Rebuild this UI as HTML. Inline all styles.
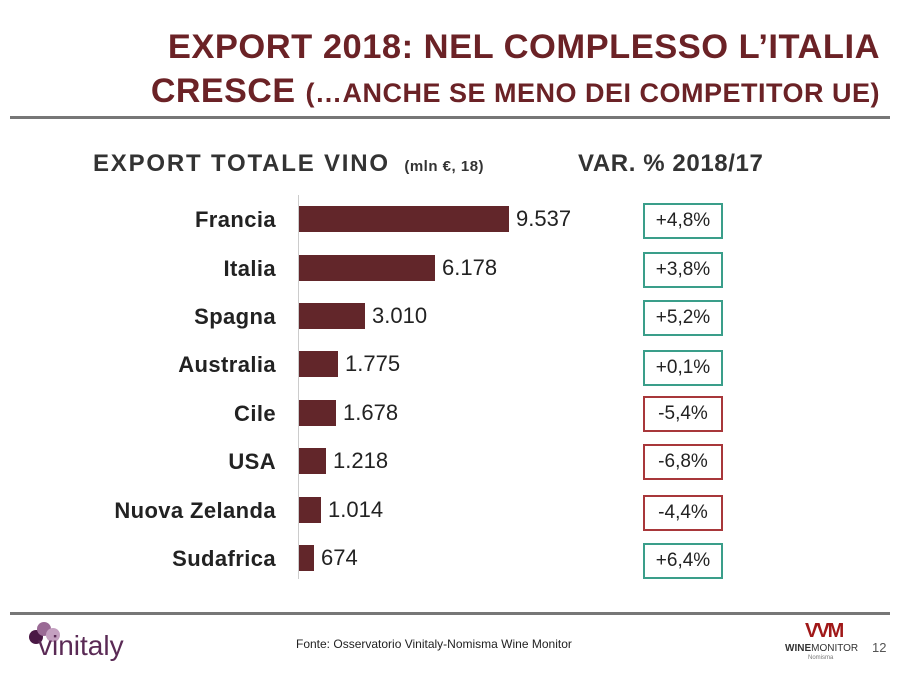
<!DOCTYPE html>
<html><head><meta charset="utf-8"><style>
body{margin:0;width:900px;height:675px;background:#fff;position:relative;overflow:hidden;font-family:"Liberation Sans",sans-serif}
.a{position:absolute;white-space:nowrap}
.t{color:#6b2226;font-weight:bold;font-size:34.5px;right:20px;letter-spacing:0.5px}
.lab{right:624px;font-weight:bold;font-size:22px;letter-spacing:0.4px;color:#222;text-align:right}
.bar{left:299px;height:26px;background:#62262a}
.val{font-size:22px;color:#222}
.box{left:643px;width:76px;height:32px;border:2px solid #3a9e8a;font-size:19px;color:#222;text-align:center;line-height:32px;box-sizing:content-box}
.r{border-color:#a8373a}
</style></head><body>
<div class="a t" style="top:28px">EXPORT 2018: NEL COMPLESSO L’ITALIA</div>
<div class="a t" style="top:72px;font-size:34px">CRESCE <span style="font-size:27px">(…ANCHE SE MENO DEI COMPETITOR UE)</span></div>
<div class="a" style="left:10px;top:116px;width:880px;height:3px;background:#777"></div>
<div class="a" style="left:93px;top:150px;font-size:24px;letter-spacing:1.8px;font-weight:bold;color:#333">EXPORT TOTALE VINO <span style="font-size:15px;margin-left:6px;letter-spacing:0.5px">(mln €, 18)</span></div>
<div class="a" style="left:578px;top:150px;font-size:24px;letter-spacing:0.6px;font-weight:bold;color:#333">VAR. % 2018/17</div>
<div class="a" style="left:298px;top:195px;width:1px;height:384px;background:#ccc"></div>
<div class="a lab" style="top:207px">Francia</div><div class="a bar" style="top:206px;width:210px"></div><div class="a val" style="left:516px;top:206px">9.537</div><div class="a box" style="top:203px">+4,8%</div>
<div class="a lab" style="top:256px">Italia</div><div class="a bar" style="top:255px;width:136px"></div><div class="a val" style="left:442px;top:255px">6.178</div><div class="a box" style="top:252px">+3,8%</div>
<div class="a lab" style="top:304px">Spagna</div><div class="a bar" style="top:303px;width:66px"></div><div class="a val" style="left:372px;top:303px">3.010</div><div class="a box" style="top:300px">+5,2%</div>
<div class="a lab" style="top:352px">Australia</div><div class="a bar" style="top:351px;width:39px"></div><div class="a val" style="left:345px;top:351px">1.775</div><div class="a box" style="top:350px">+0,1%</div>
<div class="a lab" style="top:401px">Cile</div><div class="a bar" style="top:400px;width:37px"></div><div class="a val" style="left:343px;top:400px">1.678</div><div class="a box r" style="top:396px">-5,4%</div>
<div class="a lab" style="top:449px">USA</div><div class="a bar" style="top:448px;width:27px"></div><div class="a val" style="left:333px;top:448px">1.218</div><div class="a box r" style="top:444px">-6,8%</div>
<div class="a lab" style="top:498px">Nuova Zelanda</div><div class="a bar" style="top:497px;width:22px"></div><div class="a val" style="left:328px;top:497px">1.014</div><div class="a box r" style="top:495px">-4,4%</div>
<div class="a lab" style="top:546px">Sudafrica</div><div class="a bar" style="top:545px;width:15px"></div><div class="a val" style="left:321px;top:545px">674</div><div class="a box" style="top:543px">+6,4%</div>
<div class="a" style="left:10px;top:612px;width:880px;height:3px;background:#777"></div>
<div class="a" style="left:29px;top:630px;width:14px;height:14px;border-radius:50%;background:#4a1845"></div>
<div class="a" style="left:37px;top:622px;width:14px;height:14px;border-radius:50%;background:#9a6a95"></div>
<div class="a" style="left:46px;top:628px;width:14px;height:14px;border-radius:50%;background:#c4a0c0"></div>
<div class="a" style="left:38px;top:630px;font-size:28px;color:#5a2a55">vinitaly</div>
<div class="a" style="left:296px;top:637px;font-size:12px;color:#222">Fonte: Osservatorio Vinitaly-Nomisma Wine Monitor</div>
<div class="a" style="left:805px;top:620px;font-size:20px;font-weight:bold;color:#a01818;letter-spacing:-2px">VVM</div>
<div class="a" style="left:785px;top:643px;font-size:10px;color:#333"><b>WINE</b>MONITOR</div>
<div class="a" style="left:808px;top:655px;font-size:6px;color:#777">Nomisma</div>
<div class="a" style="left:872px;top:640px;font-size:13px;color:#555">12</div>
</body></html>
